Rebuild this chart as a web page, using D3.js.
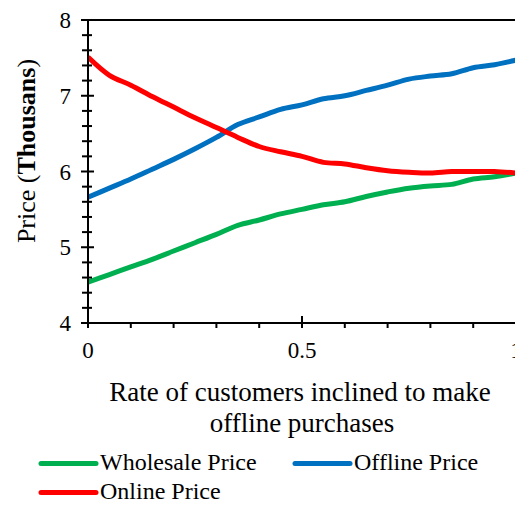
<!DOCTYPE html>
<html><head><meta charset="utf-8">
<script src="https://cdn.jsdelivr.net/npm/d3@7"></script>
<style>body{margin:0;background:#fff}svg{display:block}text{font-family:"Liberation Serif","Times New Roman",serif;fill:#000}</style>
</head><body><svg id="c" width="515" height="505"></svg>
<script>
const xs = [0,0.05,0.1,0.15,0.2,0.25,0.3,0.35,0.4,0.45,0.5,0.55,0.6,0.65,0.7,0.75,0.8,0.85,0.9,0.95,1.0];
const wholesale = [4.54,4.64,4.74,4.84,4.95,5.06,5.17,5.29,5.36,5.44,5.50,5.56,5.60,5.67,5.73,5.78,5.81,5.83,5.90,5.93,5.98];
const offline = [5.66,5.78,5.90,6.03,6.16,6.30,6.45,6.62,6.72,6.82,6.88,6.96,7.00,7.07,7.14,7.22,7.26,7.29,7.37,7.41,7.47];
const online = [7.51,7.27,7.14,6.99,6.85,6.71,6.58,6.45,6.33,6.26,6.20,6.12,6.10,6.05,6.01,5.99,5.98,6.00,6.00,6.00,5.98];
const seriesNames = ["Wholesale Price","Offline Price","Online Price"];
const seriesColors = ["#00b050","#0070c0","#ff0000"];
const xTickLabels = ["0","0.5","1"];
const yTickLabels = ["4","5","6","7","8"];

const svg = d3.select("#c");
const L = 88, R = 516, T = 20, B = 323;
const x = d3.scaleLinear().domain([0,1]).range([L,R]);
const y = d3.scaleLinear().domain([4,8]).range([B,T]);

svg.append("clipPath").attr("id","cp").append("rect").attr("x",L).attr("y",T-5).attr("width",R-L).attr("height",B-T+10);

const data = [wholesale, offline, online];
const line = d3.line().x((d,i)=>x(xs[i])).y(d=>y(d)).curve(d3.curveCatmullRom.alpha(0.5));
data.forEach((s,k)=>{
  svg.append("path").attr("d",line(s)).attr("fill","none").attr("stroke",seriesColors[k])
    .attr("stroke-width",5).attr("stroke-linejoin","round").attr("clip-path","url(#cp)");
});

// frame top
svg.append("line").attr("x1",L).attr("x2",R).attr("y1",T).attr("y2",T).attr("stroke","#000").attr("stroke-width",2);

// y axis
const ga = svg.append("g");
ga.append("line").attr("x1",L).attr("x2",L).attr("y1",T).attr("y2",B).attr("stroke","#000").attr("stroke-width",2);
d3.range(4,8.001,0.2).forEach(v=>{
  const major = Math.abs(v-Math.round(v))<1e-6;
  ga.append("line").attr("x1",major?L-7:L-6).attr("x2",major?L+6:L+4).attr("y1",y(v)).attr("y2",y(v)).attr("stroke","#000").attr("stroke-width",2);
});
yTickLabels.forEach(t=>{
  ga.append("text").attr("x",71).attr("y",y(+t)+8).attr("text-anchor","end").attr("font-size",23).text(t);
});
// x axis
ga.append("line").attr("x1",L).attr("x2",R).attr("y1",B).attr("y2",B).attr("stroke","#000").attr("stroke-width",2);
d3.range(0,1.0001,0.1).forEach(v=>{
  const major = Math.abs(v*2-Math.round(v*2))<1e-6;
  ga.append("line").attr("x1",x(v)).attr("x2",x(v)).attr("y1",major?B-7:B).attr("y2",B+5).attr("stroke","#000").attr("stroke-width",2);
});
xTickLabels.forEach(t=>{
  ga.append("text").attr("x",x(+t)).attr("y",358).attr("text-anchor","middle").attr("font-size",23).text(t);
});

// axis titles
const yl = svg.append("text").attr("transform","translate(35,151) rotate(-90)").attr("text-anchor","middle").attr("font-size",26);
yl.append("tspan").text("Price (");
yl.append("tspan").attr("font-weight","bold").text("Thousans");
yl.append("tspan").text(")");
svg.append("text").attr("x",300).attr("y",401).attr("text-anchor","middle").attr("font-size",27).text("Rate of customers inclined to make");
svg.append("text").attr("x",302).attr("y",432).attr("text-anchor","middle").attr("font-size",27).text("offline purchases");

// legend
const leg = [[41,463.5,470],[295,463.5,470],[41,492.5,499]];
seriesNames.forEach((n,k)=>{
  const [lx,ly,ty] = leg[k];
  svg.append("line").attr("x1",lx).attr("x2",lx+55).attr("y1",ly).attr("y2",ly).attr("stroke",seriesColors[k]).attr("stroke-width",5).attr("stroke-linecap","round");
  svg.append("text").attr("x",lx+59).attr("y",ty).attr("font-size",24).text(n);
});
</script></body></html>
